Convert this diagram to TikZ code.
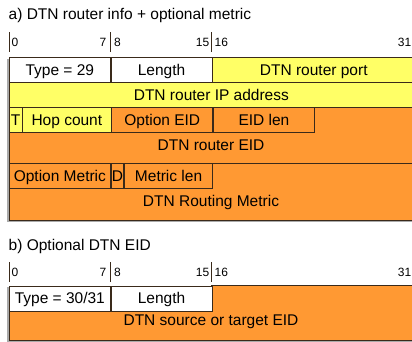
\documentclass[tikz,border=0pt]{standalone}
\usepackage{fontspec}
\setmainfont{Liberation Sans}
\usetikzlibrary{positioning}
\definecolor{fieldyellow}{RGB}{255,255,102}
\definecolor{fieldorange}{RGB}{255,153,51}
\definecolor{edgegray}{RGB}{58,42,26}
\definecolor{shadowgray}{RGB}{170,170,170}
\tikzset{field/.style={draw=edgegray,line width=0.7pt,inner sep=0pt,minimum height=25pt,text height=11.1pt,text depth=0pt,anchor=north west},
         nbits/.style={minimum width=#1*12.625pt},
         varfield/.style={draw=edgegray,line width=0.7pt,fill=fieldorange},
         bitmark/.style={draw=edgegray,line width=0.7pt},
         bitlabel/.style={font=\fontsize{12}{14}\selectfont,inner sep=0pt},
         heading/.style={anchor=base west,inner sep=0pt},
         frameshadow/.style={fill=shadowgray},
        }

\begin{document}
\begin{tikzpicture}[x=1pt,y=-1pt,font=\fontsize{15.5}{18}\selectfont]
        \useasboundingbox[fill=white](0,0)rectangle(412,341);

        % a) router info
        \node[heading](titlea)at(8.5,19.5){a) DTN router info + optional metric};

        \draw[bitmark](9,32.3)--(9,51.7);
        \draw[bitmark](110,32.3)--(110,51.7);
        \draw[bitmark](211,32.3)--(211,51.7);
        \node[bitlabel,anchor=base west](a0)at(11.5,46){0};
        \node[bitlabel,anchor=base east](a7)at(106.5,46){7};
        \node[bitlabel,anchor=base west](a8)at(114,46){8};
        \node[bitlabel,anchor=base east](a15)at(209.5,46){15};
        \node[bitlabel,anchor=base west](a16)at(214.5,46){16};
        \node[bitlabel,anchor=base east](a31)at(411.5,46){31};

        \fill[frameshadow](7.3,58.5)rectangle(413,221.6);
        \draw[varfield](312,106.7)--(413,106.7)--(413,163.3)--(9,163.3)--(9,131.7)--(312,131.7)--cycle;
        \draw[varfield](211,163.3)--(413,163.3)--(413,220)--(9,220)--(9,188.3)--(211,188.3)--cycle;

        \node[field,nbits=8,fill=white](typea)at(9,56.7){Type = 29};
        \node[field,nbits=8,fill=white,right=0pt of typea](lena){Length};
        \node[field,nbits=16,fill=fieldyellow,right=0pt of lena](port){DTN router port};

        \node[field,nbits=32,fill=fieldyellow](ip)at(9,81.7){DTN router IP address};

        \node[field,nbits=1,fill=fieldyellow](tflag)at(9,106.7){T};
        \node[field,nbits=7,fill=fieldyellow,right=0pt of tflag](hops){Hop count};
        \node[field,nbits=8,fill=fieldorange,right=0pt of hops](opteid){Option EID};
        \node[field,nbits=8,fill=fieldorange,right=0pt of opteid](eidlen){EID len};
        \node[inner sep=0pt](eid)at(211,145.5){DTN router EID};

        \node[field,nbits=8,fill=fieldorange](optmet)at(9,163.3){Option Metric};
        \node[field,nbits=1,fill=fieldorange,right=0pt of optmet](dflag){D};
        \node[field,nbits=7,fill=fieldorange,right=0pt of dflag](metlen){Metric len};
        \node[inner sep=0pt](metric)at(211,202){DTN Routing Metric};

        % b) optional EID
        \node[heading](titleb)at(8.5,250.7){b) Optional DTN EID};

        \draw[bitmark](9,262.3)--(9,281.7);
        \draw[bitmark](110,262.3)--(110,281.7);
        \draw[bitmark](211,262.3)--(211,281.7);
        \node[bitlabel,anchor=base west](b0)at(11.5,276){0};
        \node[bitlabel,anchor=base east](b7)at(106.5,276){7};
        \node[bitlabel,anchor=base west](b8)at(114,276){8};
        \node[bitlabel,anchor=base east](b15)at(209.5,276){15};
        \node[bitlabel,anchor=base west](b16)at(214.5,276){16};
        \node[bitlabel,anchor=base east](b31)at(411.5,276){31};

        \fill[frameshadow](7.3,287.3)rectangle(413,342);
        \draw[varfield](211,285.5)--(413,285.5)--(413,340.3)--(9,340.3)--(9,310.5)--(211,310.5)--cycle;

        \node[field,nbits=8,fill=white](typeb)at(9,285.5){Type = 30/31};
        \node[field,nbits=8,fill=white,right=0pt of typeb](lenb){Length};
        \node[inner sep=0pt](srceid)at(211,322){DTN source or target EID};
    \end{tikzpicture}
\end{document}
